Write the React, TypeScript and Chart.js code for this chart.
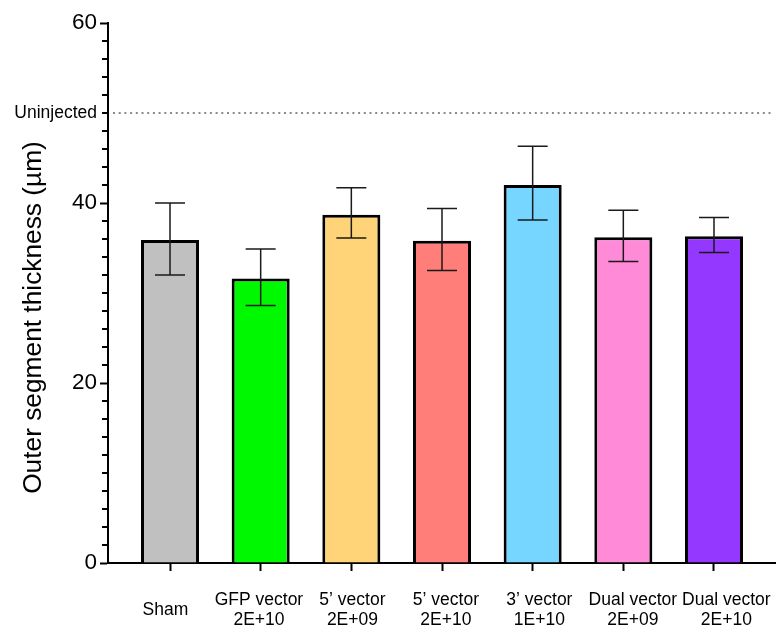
import React, { useEffect, useRef } from "react";
import { Chart, registerables } from "chart.js";

Chart.register(...registerables);

const categories: string[][] = [
  ["Sham"],
  ["GFP vector", "2E+10"],
  ["5\u2019 vector", "2E+09"],
  ["5\u2019 vector", "2E+10"],
  ["3\u2019 vector", "1E+10"],
  ["Dual vector", "2E+09"],
  ["Dual vector", "2E+10"],
];
const means = [35.9, 31.6, 38.7, 35.8, 42.0, 36.2, 36.3];
const errHigh = [40.0, 34.9, 41.7, 39.4, 46.3, 39.2, 38.4];
const errLow = [32.0, 28.6, 36.1, 32.5, 38.1, 33.5, 34.5];
const barColors = ["#C0C0C0", "#00F900", "#FFD479", "#FF7E79", "#76D6FF", "#FF8AD8", "#9437FF"];
const uninjected = 50;
const uninjectedLabel = "Uninjected";
const yMajorTicks = [0, 20, 40, 60];
const yMinorStep = 2;
const yMin = 0;
const yMax = 60;
const yTitle = "Outer segment thickness (\u00B5m)";

const FONT = "'Liberation Sans', Arial, Helvetica, sans-serif";
// label layout (in category units): labels sit on a slightly wider pitch than the bars
const LABEL_START = -0.05;
const LABEL_STEP = 1.031;

export default function App() {
  const canvasRef = useRef<HTMLCanvasElement | null>(null);

  useEffect(() => {
    const canvas = canvasRef.current;
    if (!canvas) return;

    const overlay = {
      id: "overlay",
      beforeDatasetsDraw(chart: any) {
        const { ctx, scales } = chart;
        const y = scales.y.getPixelForValue(uninjected);
        ctx.save();
        ctx.strokeStyle = "#8a8a8a";
        ctx.lineWidth = 2;
        ctx.setLineDash([2, 3.7]);
        ctx.beginPath();
        ctx.moveTo(scales.x.left + 5, y);
        ctx.lineTo(scales.x.right - 4, y);
        ctx.stroke();
        ctx.restore();
      },
      afterDatasetsDraw(chart: any) {
        const { ctx, scales } = chart;
        ctx.save();
        ctx.strokeStyle = "#1a1a1a";
        ctx.lineWidth = 1.5;
        for (let i = 0; i < means.length; i++) {
          const x = scales.x.getPixelForValue(i);
          const yh = scales.y.getPixelForValue(errHigh[i]);
          const yl = scales.y.getPixelForValue(errLow[i]);
          ctx.beginPath();
          ctx.moveTo(x, yl);
          ctx.lineTo(x, yh);
          ctx.moveTo(x - 15, yh);
          ctx.lineTo(x + 15, yh);
          ctx.moveTo(x - 15, yl);
          ctx.lineTo(x + 15, yl);
          ctx.stroke();
        }
        ctx.restore();
      },
      afterDraw(chart: any) {
        const { ctx, scales } = chart;
        const ys = scales.y;
        const xs = scales.x;
        ctx.save();
        ctx.strokeStyle = "#000";
        ctx.lineWidth = 2;
        for (let v = yMin; v <= yMax; v += yMinorStep) {
          if (yMajorTicks.includes(v)) continue;
          const y = Math.round(ys.getPixelForValue(v));
          ctx.beginPath();
          ctx.moveTo(ys.right - 6, y);
          ctx.lineTo(ys.right, y);
          ctx.stroke();
        }
        // category labels
        ctx.fillStyle = "#000";
        ctx.font = `17.5px ${FONT}`;
        ctx.textAlign = "center";
        ctx.textBaseline = "alphabetic";
        categories.forEach((lines, i) => {
          const x = xs.getPixelForValue(LABEL_START + i * LABEL_STEP);
          if (lines.length === 1) {
            ctx.fillText(lines[0], x, xs.top + 52);
          } else {
            ctx.fillText(lines[0], x, xs.top + 42);
            ctx.fillText(lines[1], x, xs.top + 62);
          }
        });
        // y title
        const cx = 34;
        const cy = (ys.top + ys.bottom) / 2 + 24.5;
        ctx.translate(cx, cy);
        ctx.rotate(-Math.PI / 2);
        ctx.font = `26.3px ${FONT}`;
        ctx.textAlign = "center";
        ctx.textBaseline = "middle";
        ctx.fillText(yTitle, 0, 0);
        ctx.restore();
      },
    };

    const chart = new Chart(canvas, {
      type: "bar",
      data: {
        datasets: [
          {
            data: means.map((v, i) => ({ x: i, y: v })),
            backgroundColor: barColors,
            borderColor: "#000",
            borderWidth: 3,
            barPercentage: 0.64,
            categoryPercentage: 1,
          },
        ],
      },
      options: {
        animation: false,
        responsive: true,
        maintainAspectRatio: false,
        layout: { padding: { top: 23, left: 0, right: 0, bottom: 0 } },
        plugins: { legend: { display: false }, tooltip: { enabled: false } },
        scales: {
          x: {
            type: "linear",
            offset: false,
            min: -0.684,
            max: 6.684,
            afterBuildTicks(scale: any) {
              scale.ticks = categories.map((_, i) => ({ value: i }));
            },
            afterFit(scale: any) {
              scale.height = 65;
            },
            grid: {
              offset: false,
              drawOnChartArea: false,
              drawTicks: true,
              tickLength: 8,
              tickWidth: 2,
              tickColor: "#000",
            },
            border: { color: "#000", width: 2 },
            ticks: {
              autoSkip: false,
              maxRotation: 0,
              minRotation: 0,
              color: "#000",
              font: { family: FONT, size: 17.5 },
              callback: () => "",
            },
          },
          y: {
            min: yMin,
            max: yMax,
            afterBuildTicks(scale: any) {
              const t: any[] = [];
              for (let v = yMin; v <= yMax; v += yMinorStep) t.push({ value: v });
              scale.ticks = t;
            },
            afterFit(scale: any) {
              scale.width = 108;
            },
            grid: {
              drawOnChartArea: false,
              drawTicks: true,
              tickLength: 8,
              tickWidth: 2,
              tickColor: (ctx: any) =>
                ctx.tick && yMajorTicks.includes(ctx.tick.value) ? "#000" : "rgba(0,0,0,0)",
            },
            border: { color: "#000", width: 2 },
            ticks: {
              autoSkip: false,
              padding: 3,
              color: "#000",
              font: (ctx: any) =>
                ctx.tick && ctx.tick.value === uninjected
                  ? { family: FONT, size: 17.5 }
                  : { family: FONT, size: 22.5 },
              callback: (v: any) => {
                const n = Number(v);
                if (n === uninjected) return uninjectedLabel;
                if (yMajorTicks.includes(n)) return String(n);
                return "";
              },
            },
          },
        },
      },
      plugins: [overlay],
    });

    return () => chart.destroy();
  }, []);

  return (
    <div style={{ position: "fixed", left: 0, top: 0, width: 776, height: 628, background: "#fff" }}>
      <canvas ref={canvasRef} />
    </div>
  );
}
